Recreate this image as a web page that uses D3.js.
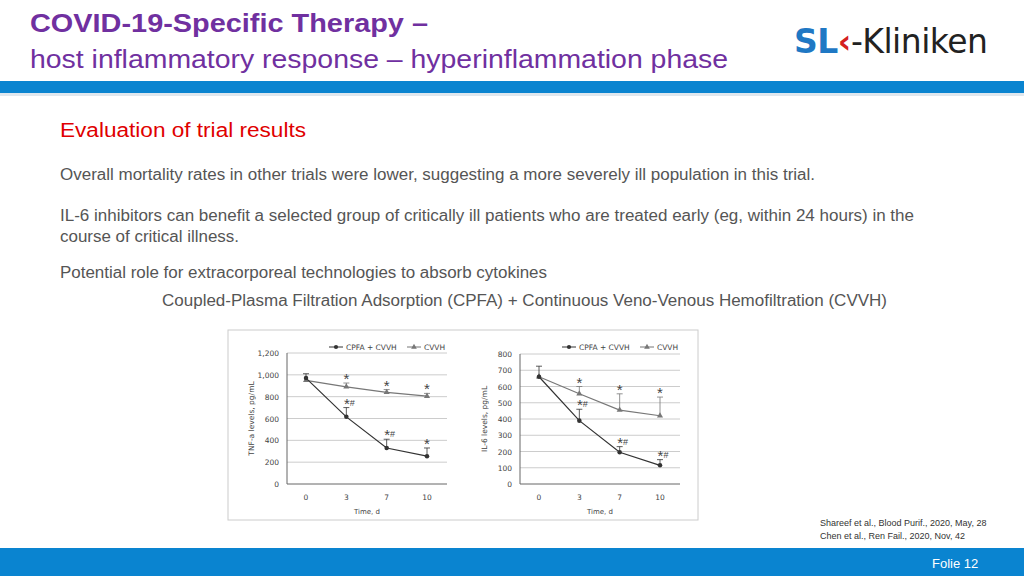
<!DOCTYPE html>
<html><head><meta charset="utf-8">
<script src="https://cdn.jsdelivr.net/npm/d3@7"></script>
<style>body{margin:0;background:#fff;font-family:Arial,"Liberation Sans",sans-serif}</style>
</head><body><svg id="c" width="1024" height="576"></svg>
<script>
// Daten
const days = ["0", "3", "7", "10"];
const tnfCpfa = [970, 615, 330, 255];
const tnfCpfaErr = [40, 85, 80, 75];
const tnfCvvh = [950, 890, 840, 805];
const tnfCvvhErr = [0, 35, 25, 25];
const tnfCpfaMarks = ["", "*#", "*#", "*"];
const tnfCvvhMarks = ["", "*", "*", "*"];
const il6Cpfa = [660, 390, 195, 115];
const il6CpfaErr = [65, 70, 35, 35];
const il6Cvvh = [660, 555, 455, 420];
const il6CvvhErr = [0, 45, 100, 115];
const il6CpfaMarks = ["", "*#", "*#", "*#"];
const il6CvvhMarks = ["", "*", "*", "*"];
const tnfTicks = [0, 200, 400, 600, 800, 1000, 1200];
const il6Ticks = [0, 100, 200, 300, 400, 500, 600, 700, 800];

const svg = d3.select("#c");
const purple = "#7030a0";

// Kopfzeile
svg.append("text").attr("x", 30).attr("y", 32).attr("fill", purple).attr("textLength", 398).attr("lengthAdjust", "spacingAndGlyphs")
  .attr("font-size", 26).attr("font-weight", "bold").text("COVID-19-Specific Therapy –");
svg.append("text").attr("x", 30).attr("y", 68).attr("fill", purple).attr("textLength", 698).attr("lengthAdjust", "spacingAndGlyphs")
  .attr("font-size", 26).text("host inflammatory response – hyperinflammation phase");
svg.append("rect").attr("x", 0).attr("y", 81).attr("width", 1024).attr("height", 12).attr("fill", "#0a84d0");
svg.append("rect").attr("x", 0).attr("y", 93).attr("width", 1024).attr("height", 3).attr("fill", "#dfe7ee");

// Logo
const logo = svg.append("text").attr("x", 794).attr("y", 53).attr("font-size", 33).attr("textLength", 194).attr("font-family", "DejaVu Sans, sans-serif");
logo.append("tspan").attr("fill", "#1f78c4").attr("font-weight", "bold").text("SL");
logo.append("tspan").attr("fill", "#d42020").attr("font-weight", "bold").text("‹");
logo.append("tspan").attr("fill", "#222").text("-Kliniken");

// Text
svg.append("text").attr("x", 60).attr("y", 137).attr("fill", "#e00000").attr("font-size", 20).attr("textLength", 246)
  .attr("lengthAdjust", "spacingAndGlyphs").text("Evaluation of trial results");
const body = [
  [60, 180, 755, "Overall mortality rates in other trials were lower, suggesting a more severely ill population in this trial."],
  [60, 221, 854, "IL-6 inhibitors can benefit a selected group of critically ill patients who are treated early (eg, within 24 hours) in the"],
  [60, 242, 179, "course of critical illness."],
  [60, 278, 487, "Potential role for extracorporeal technologies to absorb cytokines"],
  [162, 306, 725, "Coupled-Plasma Filtration Adsorption (CPFA) + Continuous Veno-Venous Hemofiltration (CVVH)"]
];
body.forEach(([x, y, w, t]) => svg.append("text").attr("x", x).attr("y", y).attr("fill", "#555").attr("font-size", 16)
  .attr("textLength", w).attr("lengthAdjust", "spacingAndGlyphs").text(t));

// Diagrammbox
svg.append("rect").attr("x", 228).attr("y", 330).attr("width", 470).attr("height", 190)
  .attr("fill", "#fff").attr("stroke", "#ccc");

function chart(x0, x1, yTop, ticks, cpfa, cpfaErr, cvvh, cvvhErr, mCpfa, mCvvh, label) {
  const g = svg.append("g").attr("font-family", "DejaVu Sans, sans-serif");
  const x = d3.scalePoint().domain(days).range([x0 + 19, x1 - 20]);
  const y = d3.scaleLinear().domain([0, d3.max(ticks)]).range([484, yTop]);
  ticks.forEach(t => {
    if (t > 0) g.append("line").attr("x1", x0).attr("x2", x1).attr("y1", y(t)).attr("y2", y(t)).attr("stroke", "#ccc");
    g.append("text").attr("x", x0 - 8).attr("y", y(t) + 3).attr("text-anchor", "end").attr("font-size", 7.5).attr("fill", "#444")
      .text(d3.format(",")(t));
  });
  g.append("line").attr("x1", x0).attr("x2", x1).attr("y1", 484).attr("y2", 484).attr("stroke", "#666");
  g.append("line").attr("x1", x0).attr("x2", x0).attr("y1", yTop).attr("y2", 484).attr("stroke", "#666");
  days.forEach(d => g.append("text").attr("x", x(d)).attr("y", 500).attr("text-anchor", "middle").attr("font-size", 7.5).attr("fill", "#444").text(d));
  g.append("text").attr("x", (x0 + x1) / 2).attr("y", 514).attr("text-anchor", "middle").attr("font-size", 7).attr("fill", "#444").text("Time, d");
  g.append("text").attr("transform", `translate(${x0 - 33},${(yTop + 484) / 2}) rotate(-90)`).attr("text-anchor", "middle")
    .attr("font-size", 7.5).attr("fill", "#444").text(label);

  const line = d3.line().x((d, i) => x(days[i])).y(d => y(d));
  [[cvvh, cvvhErr, "#777", d3.symbolTriangle, mCvvh], [cpfa, cpfaErr, "#333", d3.symbolCircle, mCpfa]].forEach(([vals, err, col, sym, marks]) => {
    vals.forEach((v, i) => {
      if (!err[i]) return;
      const xx = x(days[i]);
      g.append("line").attr("x1", xx).attr("x2", xx).attr("y1", y(v)).attr("y2", y(v + err[i])).attr("stroke", col).attr("stroke-width", 0.8);
      g.append("line").attr("x1", xx - 3).attr("x2", xx + 3).attr("y1", y(v + err[i])).attr("y2", y(v + err[i])).attr("stroke", col).attr("stroke-width", 0.8);
    });
    g.append("path").attr("d", line(vals)).attr("fill", "none").attr("stroke", col).attr("stroke-width", 1.2);
    vals.forEach((v, i) => g.append("path").attr("d", d3.symbol(sym, 16)()).attr("transform", `translate(${x(days[i])},${y(v)})`).attr("fill", col));
    marks.forEach((m, i) => {
      if (!m) return;
      const t = g.append("text").attr("x", x(days[i]) + (m.length > 1 ? 3 : 0)).attr("y", y(vals[i] + err[i]) + 1)
        .attr("text-anchor", "middle").attr("fill", "#444").attr("font-family", "Liberation Sans, Arial, sans-serif");
      t.append("tspan").attr("font-size", 15).text("*");
      if (m.length > 1) t.append("tspan").attr("font-size", 9).attr("dy", -3).text("#");
    });
  });
  // Legende
  const lx = x1 - 118, ly = 347;
  g.append("line").attr("x1", lx).attr("x2", lx + 14).attr("y1", ly).attr("y2", ly).attr("stroke", "#333");
  g.append("path").attr("d", d3.symbol(d3.symbolCircle, 14)()).attr("transform", `translate(${lx + 7},${ly})`).attr("fill", "#333");
  g.append("text").attr("x", lx + 17).attr("y", ly + 3).attr("font-size", 7.5).attr("fill", "#444").text("CPFA + CVVH");
  g.append("line").attr("x1", lx + 78).attr("x2", lx + 92).attr("y1", ly).attr("y2", ly).attr("stroke", "#777");
  g.append("path").attr("d", d3.symbol(d3.symbolTriangle, 14)()).attr("transform", `translate(${lx + 85},${ly})`).attr("fill", "#777");
  g.append("text").attr("x", lx + 95).attr("y", ly + 3).attr("font-size", 7.5).attr("fill", "#444").text("CVVH");
}
chart(287, 447, 353, tnfTicks, tnfCpfa, tnfCpfaErr, tnfCvvh, tnfCvvhErr, tnfCpfaMarks, tnfCvvhMarks, "TNF-a levels, pg/mL");
chart(520, 680, 354, il6Ticks, il6Cpfa, il6CpfaErr, il6Cvvh, il6CvvhErr, il6CpfaMarks, il6CvvhMarks, "IL-6 levels, pg/mL");

// Quellen & Fußzeile
svg.append("text").attr("x", 820).attr("y", 526).attr("font-size", 9).attr("fill", "#333").text("Shareef et al., Blood Purif., 2020, May, 28");
svg.append("text").attr("x", 820).attr("y", 539).attr("font-size", 9).attr("fill", "#333").text("Chen et al., Ren Fail., 2020, Nov, 42");
svg.append("rect").attr("x", 0).attr("y", 548).attr("width", 1024).attr("height", 28).attr("fill", "#0a84d0");
svg.append("text").attr("x", 932).attr("y", 568).attr("font-size", 13).attr("fill", "#fff").text("Folie  12");
</script></body></html>
